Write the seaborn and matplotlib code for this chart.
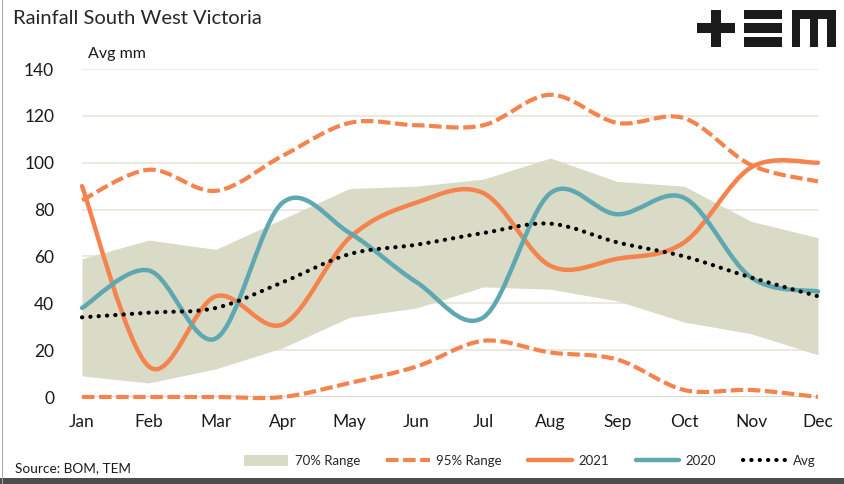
import numpy as np
import matplotlib
matplotlib.use("Agg")
import matplotlib.pyplot as plt
from matplotlib.path import Path
from matplotlib.patches import PathPatch, Rectangle, Patch
from matplotlib.lines import Line2D
import seaborn as sns

# values (mm)
months = ['Jan', 'Feb', 'Mar', 'Apr', 'May', 'Jun', 'Jul', 'Aug', 'Sep', 'Oct', 'Nov', 'Dec']
band70_hi = [59, 67, 63, 76, 89, 90, 93, 102, 92, 90, 75, 68]
band70_lo = [9, 6, 12, 21, 34, 38, 47, 46, 41, 32, 27, 18]
band95_hi = [84, 97, 88, 103, 117, 116, 116, 129, 117, 119, 99, 92]
band95_lo = [0, 0, 0, 0, 6, 13, 24, 19, 16, 3, 3, 0]
rain2021 = [90, 13, 43, 31, 68, 83, 87, 56, 59, 66, 98, 100]
rain2020 = [38, 54, 25, 83, 70, 49, 34, 87, 78, 85, 51, 45]
avg = [34, 36, 38, 49, 61, 65, 70, 74, 66, 60, 51, 43]
yticks = [0, 20, 40, 60, 80, 100, 120, 140]

ORANGE = '#F4834D'
TEAL = '#60A8B1'
BAND = '#D9DBC6'
GRID = '#E8E8E0'
DOTS = (0.05, 1.95)

sns.set_theme(style='white')
plt.rcParams['font.family'] = ['Lato', 'DejaVu Sans']


def smooth_path(xs, ys):
    # excel style smoothed line: cubic bezier through every point
    pts = np.column_stack([xs, ys]).astype(float)
    n = len(pts)
    verts = [pts[0]]
    codes = [Path.MOVETO]
    for i in range(n - 1):
        p0 = pts[max(i - 1, 0)]
        p1 = pts[i]
        p2 = pts[i + 1]
        p3 = pts[min(i + 2, n - 1)]
        c1 = p1 + (p2 - p0) / 6.0
        c2 = p2 - (p3 - p1) / 6.0
        verts += [c1, c2, p2]
        codes += [Path.CURVE4] * 3
    return Path(verts, codes)


fig = plt.figure(figsize=(8.44, 4.84), dpi=100)
ax = fig.add_axes([82 / 844, 1 - 397 / 484, 736 / 844, 328 / 484])

x = np.arange(len(months))
ax.fill_between(x, band70_lo, band70_hi, color=BAND, lw=0, zorder=2)

def draw(ys, color, lw, dashes=None, cap='butt', z=3):
    pp = PathPatch(smooth_path(x, ys), fill=False, edgecolor=color, lw=lw,
                   capstyle=cap, joinstyle='round', zorder=z, clip_on=False)
    if dashes is not None:
        pp.set_linestyle((0, dashes))
    ax.add_patch(pp)

draw(band95_hi, ORANGE, 3, dashes=(3.0, 1.1))
draw(band95_lo, ORANGE, 3, dashes=(3.0, 1.1))
draw(rain2021, ORANGE, 3.2, cap='round', z=4)
draw(rain2020, TEAL, 3.2, cap='round', z=5)
draw(avg, 'black', 3.0, dashes=DOTS, cap='round', z=6)

ax.set_xlim(0, len(months) - 1)
ax.set_ylim(0, 140)
ax.set_yticks(yticks)
ax.set_xticks(x)
ax.set_xticklabels(months)
for yv in yticks[1:]:
    ax.axhline(yv, color=GRID, lw=1.3, zorder=1)
ax.axhline(0, color='#D6D6D0', lw=1.3, zorder=1)
sns.despine(ax=ax, left=True, bottom=True)
ax.tick_params(axis='both', length=0, labelsize=12.5, colors='#1a1a1a')
ax.tick_params(axis='x', pad=12)
ax.tick_params(axis='y', pad=20)
ax.grid(False)

fig.text(13 / 844, 1 - 18 / 484, 'Rainfall South West Victoria', fontsize=14.5,
         va='center', ha='left', color='#262626')
fig.text(88 / 844, 1 - 54 / 484, 'Avg mm', fontsize=11.5, va='center', ha='left',
         color='#1a1a1a')
fig.text(15 / 844, 1 - 468 / 484, 'Source: BOM, TEM', fontsize=9.8, va='center',
         ha='left', color='#1a1a1a')

# logo
def box(x0, y0, x1, y1):
    fig.patches.append(Rectangle((x0 / 844, 1 - y1 / 484), (x1 - x0) / 844,
                                 (y1 - y0) / 484, transform=fig.transFigure,
                                 color='#1b1b1b', lw=0))

box(697, 23, 735, 33)
box(711, 10, 721, 47)
box(744, 10, 782, 19)
box(744, 23, 782, 33)
box(744, 37, 782, 47)
box(792, 10, 836, 19)
box(792, 10, 800, 47)
box(810, 10, 818, 47)
box(827, 10, 836, 47)

# frame
fig.patches.append(Rectangle((0, 0), 1, 6 / 484, transform=fig.transFigure,
                             color='#4d4d4d', lw=0))
fig.patches.append(Rectangle((1.5 / 844, 0), 1.5 / 844, 1, transform=fig.transFigure,
                             color='#a8a8a0', lw=0))

handles = [
    Patch(facecolor=BAND, edgecolor='none'),
    Line2D([], [], color=ORANGE, lw=3, ls=(0, (3.0, 1.1))),
    Line2D([], [], color=ORANGE, lw=3.2, solid_capstyle='round'),
    Line2D([], [], color=TEAL, lw=3.2, solid_capstyle='round'),
    Line2D([], [], color='black', lw=3, ls=(0, DOTS), dash_capstyle='round'),
]
labels = ['70% Range', '95% Range', '2021', '2020', 'Avg']
fig.legend(handles, labels, ncol=5, loc='center', frameon=False, fontsize=9.5,
           bbox_to_anchor=(530 / 844, 1 - 461 / 484), handlelength=3.3,
           handleheight=0.9, handletextpad=0.5, columnspacing=2.0)

fig.savefig('out.png', dpi=100)
